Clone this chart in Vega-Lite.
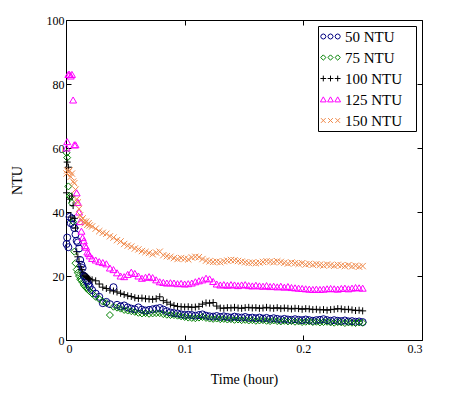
{
"$schema":"https://vega.github.io/schema/vega-lite/v6.json",
"width":356,"height":320,"autosize":"none",
"padding":{"left":66,"top":20,"right":54,"bottom":79},
"background":"white",
"config":{"view":{"stroke":"black","strokeWidth":1},"font":"Liberation Serif",
 "axis":{"labelFont":"Liberation Serif","titleFont":"Liberation Serif","labelColor":"black","titleColor":"black","tickColor":"black","domain":false,"grid":false,"titleFontWeight":"normal","labelFontSize":12,"titleFontSize":14,"tickSize":-5}},
"data":{"values":[
{"t":0.0005,"50 NTU":30,"75 NTU":58.5,"100 NTU":46,"125 NTU":60,"150 NTU":52},
{"t":0.001,"50 NTU":32,"75 NTU":57,"100 NTU":55.6,"125 NTU":62,"150 NTU":53},
{"t":0.002,"50 NTU":29,"75 NTU":48,"100 NTU":54,"125 NTU":83,"150 NTU":52.5},
{"t":0.003,"50 NTU":38.5,"75 NTU":45,"100 NTU":44,"125 NTU":83,"150 NTU":53},
{"t":0.004,"50 NTU":36.5,"75 NTU":44.8,"100 NTU":38.4,"125 NTU":82.5,"150 NTU":51},
{"t":0.005,"50 NTU":38,"75 NTU":42.8,"100 NTU":45,"125 NTU":83,"150 NTU":52},
{"t":0.006,"50 NTU":36,"75 NTU":37,"100 NTU":42,"125 NTU":75,"150 NTU":49.5},
{"t":0.007,"50 NTU":35,"75 NTU":27.6,"100 NTU":38,"125 NTU":61,"150 NTU":49},
{"t":0.008,"50 NTU":33,"75 NTU":24,"100 NTU":35,"125 NTU":61,"150 NTU":47},
{"t":0.009,"50 NTU":31,"75 NTU":22,"100 NTU":27.6,"125 NTU":46,"150 NTU":44},
{"t":0.010,"50 NTU":30.5,"75 NTU":21,"100 NTU":26,"125 NTU":43,"150 NTU":43},
{"t":0.011,"50 NTU":28.6,"75 NTU":20,"100 NTU":24.5,"125 NTU":40,"150 NTU":41},
{"t":0.012,"50 NTU":25,"75 NTU":19,"100 NTU":22.9,"125 NTU":37,"150 NTU":39},
{"t":0.013,"50 NTU":23.5,"75 NTU":18.7,"100 NTU":22,"125 NTU":34,"150 NTU":37.5},
{"t":0.014,"50 NTU":22.5,"75 NTU":18,"100 NTU":21,"125 NTU":32,"150 NTU":38},
{"t":0.015,"50 NTU":20,"75 NTU":17.2,"100 NTU":20.3,"125 NTU":31,"150 NTU":37},
{"t":0.016,"50 NTU":19.8,"75 NTU":16.8,"100 NTU":20,"125 NTU":29.5,"150 NTU":36.5},
{"t":0.017,"50 NTU":18.7,"75 NTU":16.3,"100 NTU":19.8,"125 NTU":29,"150 NTU":37},
{"t":0.018,"50 NTU":18.2,"75 NTU":16,"100 NTU":19.5,"125 NTU":27.5,"150 NTU":36},
{"t":0.019,"50 NTU":17.5,"75 NTU":15.6,"100 NTU":19.2,"125 NTU":27,"150 NTU":36.5},
{"t":0.020,"50 NTU":16.7,"75 NTU":15.2,"100 NTU":19,"125 NTU":26.3,"150 NTU":35.8},
{"t":0.022,"50 NTU":15.6,"75 NTU":14.5,"100 NTU":18.8,"125 NTU":25.5,"150 NTU":35.5},
{"t":0.025,"50 NTU":14.5,"75 NTU":13.5,"100 NTU":18.5,"125 NTU":25,"150 NTU":34.8},
{"t":0.028,"50 NTU":13.5,"75 NTU":12.8,"100 NTU":17.5,"125 NTU":24.5,"150 NTU":34},
{"t":0.031,"50 NTU":11.5,"75 NTU":12,"100 NTU":16.5,"125 NTU":24.2,"150 NTU":33.5},
{"t":0.034,"50 NTU":11.9,"75 NTU":11.5,"100 NTU":16.1,"125 NTU":23.8,"150 NTU":33.2},
{"t":0.037,"50 NTU":11.2,"75 NTU":7.8,"100 NTU":15.6,"125 NTU":22.5,"150 NTU":32.4},
{"t":0.040,"50 NTU":16.5,"75 NTU":10.4,"100 NTU":15.3,"125 NTU":22,"150 NTU":32},
{"t":0.043,"50 NTU":11,"75 NTU":10.1,"100 NTU":15,"125 NTU":21,"150 NTU":31.2},
{"t":0.046,"50 NTU":10.5,"75 NTU":9.8,"100 NTU":14.6,"125 NTU":20,"150 NTU":30.8},
{"t":0.049,"50 NTU":10.8,"75 NTU":9.4,"100 NTU":14.2,"125 NTU":19.8,"150 NTU":30},
{"t":0.052,"50 NTU":10.2,"75 NTU":9.2,"100 NTU":13.8,"125 NTU":20.5,"150 NTU":29.5},
{"t":0.055,"50 NTU":9.8,"75 NTU":9.0,"100 NTU":13.6,"125 NTU":21.2,"150 NTU":29.2},
{"t":0.058,"50 NTU":9.6,"75 NTU":8.8,"100 NTU":13.2,"125 NTU":20.8,"150 NTU":28.6},
{"t":0.061,"50 NTU":10.2,"75 NTU":8.5,"100 NTU":13.0,"125 NTU":20,"150 NTU":28.3},
{"t":0.064,"50 NTU":9.5,"75 NTU":8.3,"100 NTU":13.1,"125 NTU":19.3,"150 NTU":27.8},
{"t":0.067,"50 NTU":9.2,"75 NTU":8.4,"100 NTU":12.9,"125 NTU":19.6,"150 NTU":27.5},
{"t":0.070,"50 NTU":9.4,"75 NTU":8.2,"100 NTU":12.8,"125 NTU":19.8,"150 NTU":27.2},
{"t":0.073,"50 NTU":9.6,"75 NTU":8.3,"100 NTU":12.7,"125 NTU":19.5,"150 NTU":26.8},
{"t":0.076,"50 NTU":9.8,"75 NTU":8.4,"100 NTU":12.9,"125 NTU":18.8,"150 NTU":27.3},
{"t":0.079,"50 NTU":10,"75 NTU":8.4,"100 NTU":13.5,"125 NTU":18.2,"150 NTU":27.6},
{"t":0.082,"50 NTU":9.5,"75 NTU":8.1,"100 NTU":12.3,"125 NTU":18,"150 NTU":26.5},
{"t":0.085,"50 NTU":9,"75 NTU":7.9,"100 NTU":11.8,"125 NTU":17.8,"150 NTU":26.2},
{"t":0.088,"50 NTU":8.6,"75 NTU":7.8,"100 NTU":11.2,"125 NTU":17.9,"150 NTU":26},
{"t":0.091,"50 NTU":8.4,"75 NTU":7.8,"100 NTU":10.8,"125 NTU":17.8,"150 NTU":25.6},
{"t":0.094,"50 NTU":8.3,"75 NTU":7.6,"100 NTU":10.5,"125 NTU":17.6,"150 NTU":25.3},
{"t":0.097,"50 NTU":8,"75 NTU":7.4,"100 NTU":10.4,"125 NTU":17.7,"150 NTU":25.6},
{"t":0.100,"50 NTU":7.8,"75 NTU":7.2,"100 NTU":10.3,"125 NTU":17.5,"150 NTU":25.4},
{"t":0.103,"50 NTU":7.9,"75 NTU":7.0,"100 NTU":10.4,"125 NTU":17.6,"150 NTU":25.2},
{"t":0.106,"50 NTU":7.8,"75 NTU":6.9,"100 NTU":10.2,"125 NTU":17.8,"150 NTU":25.8},
{"t":0.109,"50 NTU":7.6,"75 NTU":6.8,"100 NTU":10.3,"125 NTU":18.2,"150 NTU":26},
{"t":0.112,"50 NTU":7.8,"75 NTU":7.0,"100 NTU":10.5,"125 NTU":18.5,"150 NTU":25.9},
{"t":0.115,"50 NTU":8.0,"75 NTU":7.2,"100 NTU":11.2,"125 NTU":18.8,"150 NTU":25.3},
{"t":0.118,"50 NTU":7.6,"75 NTU":6.9,"100 NTU":11.6,"125 NTU":19.3,"150 NTU":24.8},
{"t":0.121,"50 NTU":7.4,"75 NTU":6.7,"100 NTU":11.5,"125 NTU":19.1,"150 NTU":24.6},
{"t":0.124,"50 NTU":7.3,"75 NTU":6.6,"100 NTU":11.7,"125 NTU":18.3,"150 NTU":24.4},
{"t":0.127,"50 NTU":7.5,"75 NTU":6.7,"100 NTU":10.6,"125 NTU":17.5,"150 NTU":24.5},
{"t":0.130,"50 NTU":7.2,"75 NTU":6.5,"100 NTU":10.0,"125 NTU":17.2,"150 NTU":24.3},
{"t":0.133,"50 NTU":7.4,"75 NTU":6.6,"100 NTU":9.9,"125 NTU":17.3,"150 NTU":24.6},
{"t":0.136,"50 NTU":7.2,"75 NTU":6.4,"100 NTU":10.1,"125 NTU":17.1,"150 NTU":24.8},
{"t":0.139,"50 NTU":7.0,"75 NTU":6.5,"100 NTU":10.0,"125 NTU":17.3,"150 NTU":25},
{"t":0.142,"50 NTU":7.3,"75 NTU":6.3,"100 NTU":10.2,"125 NTU":17.2,"150 NTU":24.9},
{"t":0.145,"50 NTU":7.1,"75 NTU":6.4,"100 NTU":10.0,"125 NTU":17.0,"150 NTU":24.7},
{"t":0.148,"50 NTU":7.0,"75 NTU":6.2,"100 NTU":9.9,"125 NTU":17.2,"150 NTU":24.5},
{"t":0.151,"50 NTU":7.2,"75 NTU":6.3,"100 NTU":10.1,"125 NTU":17.3,"150 NTU":24.3},
{"t":0.154,"50 NTU":6.9,"75 NTU":6.1,"100 NTU":10.2,"125 NTU":17.0,"150 NTU":24.1},
{"t":0.157,"50 NTU":7.0,"75 NTU":6.2,"100 NTU":10.0,"125 NTU":16.9,"150 NTU":24.2},
{"t":0.160,"50 NTU":6.8,"75 NTU":6.0,"100 NTU":10.1,"125 NTU":17.1,"150 NTU":24.0},
{"t":0.163,"50 NTU":7.0,"75 NTU":6.1,"100 NTU":9.9,"125 NTU":16.9,"150 NTU":24.2},
{"t":0.166,"50 NTU":6.7,"75 NTU":6.2,"100 NTU":10.0,"125 NTU":16.8,"150 NTU":24.4},
{"t":0.169,"50 NTU":6.9,"75 NTU":6.0,"100 NTU":10.2,"125 NTU":17.0,"150 NTU":24.6},
{"t":0.172,"50 NTU":6.6,"75 NTU":5.9,"100 NTU":10.0,"125 NTU":16.7,"150 NTU":24.5},
{"t":0.175,"50 NTU":6.8,"75 NTU":6.1,"100 NTU":9.9,"125 NTU":16.8,"150 NTU":24.3},
{"t":0.178,"50 NTU":6.6,"75 NTU":5.9,"100 NTU":10.1,"125 NTU":16.6,"150 NTU":24.6},
{"t":0.181,"50 NTU":6.4,"75 NTU":5.8,"100 NTU":9.8,"125 NTU":16.8,"150 NTU":24.4},
{"t":0.184,"50 NTU":6.6,"75 NTU":6.0,"100 NTU":10.0,"125 NTU":16.5,"150 NTU":24.1},
{"t":0.187,"50 NTU":6.4,"75 NTU":5.8,"100 NTU":9.9,"125 NTU":16.7,"150 NTU":23.9},
{"t":0.190,"50 NTU":6.3,"75 NTU":5.9,"100 NTU":9.7,"125 NTU":16.4,"150 NTU":24.2},
{"t":0.193,"50 NTU":6.5,"75 NTU":5.7,"100 NTU":9.9,"125 NTU":16.3,"150 NTU":24.0},
{"t":0.196,"50 NTU":6.3,"75 NTU":5.8,"100 NTU":9.8,"125 NTU":16.2,"150 NTU":23.8},
{"t":0.199,"50 NTU":6.2,"75 NTU":5.6,"100 NTU":9.6,"125 NTU":16.1,"150 NTU":24.0},
{"t":0.202,"50 NTU":6.4,"75 NTU":5.7,"100 NTU":9.8,"125 NTU":16.0,"150 NTU":23.6},
{"t":0.205,"50 NTU":6.2,"75 NTU":5.8,"100 NTU":9.7,"125 NTU":15.9,"150 NTU":23.8},
{"t":0.208,"50 NTU":6.0,"75 NTU":5.6,"100 NTU":9.5,"125 NTU":15.8,"150 NTU":23.5},
{"t":0.211,"50 NTU":6.2,"75 NTU":5.7,"100 NTU":9.6,"125 NTU":15.9,"150 NTU":23.7},
{"t":0.214,"50 NTU":6.3,"75 NTU":5.5,"100 NTU":9.4,"125 NTU":15.8,"150 NTU":23.5},
{"t":0.217,"50 NTU":6.5,"75 NTU":5.6,"100 NTU":9.5,"125 NTU":15.9,"150 NTU":23.3},
{"t":0.220,"50 NTU":6.2,"75 NTU":5.7,"100 NTU":9.3,"125 NTU":16.0,"150 NTU":23.6},
{"t":0.223,"50 NTU":6.0,"75 NTU":5.5,"100 NTU":9.5,"125 NTU":16.1,"150 NTU":23.4},
{"t":0.226,"50 NTU":6.2,"75 NTU":5.4,"100 NTU":9.6,"125 NTU":16.0,"150 NTU":23.2},
{"t":0.229,"50 NTU":6.0,"75 NTU":5.6,"100 NTU":9.8,"125 NTU":15.9,"150 NTU":23.5},
{"t":0.232,"50 NTU":5.9,"75 NTU":5.5,"100 NTU":9.7,"125 NTU":16.1,"150 NTU":23.3},
{"t":0.235,"50 NTU":6.1,"75 NTU":5.3,"100 NTU":9.5,"125 NTU":16.2,"150 NTU":23.1},
{"t":0.238,"50 NTU":5.8,"75 NTU":5.5,"100 NTU":9.6,"125 NTU":16.0,"150 NTU":23.4},
{"t":0.241,"50 NTU":5.9,"75 NTU":5.4,"100 NTU":9.4,"125 NTU":16.2,"150 NTU":23.0},
{"t":0.244,"50 NTU":5.7,"75 NTU":5.3,"100 NTU":9.2,"125 NTU":16.4,"150 NTU":23.2},
{"t":0.247,"50 NTU":5.8,"75 NTU":5.5,"100 NTU":9.3,"125 NTU":16.3,"150 NTU":22.9},
{"t":0.250,"50 NTU":5.6,"75 NTU":5.4,"100 NTU":9.1,"125 NTU":16.2,"150 NTU":23.1}
]},
"transform":[{"fold":["50 NTU","75 NTU","100 NTU","125 NTU","150 NTU"],"as":["series","v"]}],
"layer":[
 {"mark":{"type":"point","filled":false,"strokeWidth":1,"size":49,"opacity":1},
  "encoding":{
   "x":{"field":"t","type":"quantitative","scale":{"domain":[0,0.3],"nice":false},
        "axis":{"values":[0,0.1,0.2,0.3],"format":"~g","title":"Time (hour)","labelPadding":8,"titlePadding":18}},
   "y":{"field":"v","type":"quantitative","scale":{"domain":[0,100],"nice":false},
        "axis":{"values":[0,20,40,60,80,100],"title":"NTU","labelPadding":7,"titlePadding":22}},
   "color":{"field":"series","type":"nominal",
     "scale":{"domain":["50 NTU","75 NTU","100 NTU","125 NTU","150 NTU"],"range":["#000080","#008000","#000000","#FF00FF","#F08A4B"]},
     "legend":{"title":null,"orient":"top-right","offset":6,"strokeColor":"black","fillColor":"white","padding":2,
       "labelFont":"Liberation Serif","labelFontSize":15,"labelColor":"black","symbolSize":256,"symbolStrokeWidth":1,
       "rowPadding":4,"labelOffset":6,"symbolOffset":2,"cornerRadius":0,
       "labelExpr":"datum.label + '\u00a0\u00a0\u00a0\u200b'",
       "symbolType":{"expr":"datum.value === '50 NTU' ? 'M-0.58,0L-0.674,0.226L-0.9,0.32L-1.126,0.226L-1.22,0L-1.126,-0.226L-0.9,-0.32L-0.674,-0.226ZM0.32,0L0.226,0.226L0,0.32L-0.226,0.226L-0.32,0L-0.226,-0.226L0,-0.32L0.226,-0.226ZM1.22,0L1.126,0.226L0.9,0.32L0.674,0.226L0.58,0L0.674,-0.226L0.9,-0.32L1.126,-0.226Z' : datum.value === '75 NTU' ? 'M-1.23,0L-0.9,-0.33L-0.57,0L-0.9,0.33ZM-0.33,0L0,-0.33L0.33,0L0,0.33ZM0.57,0L0.9,-0.33L1.23,0L0.9,0.33Z' : datum.value === '100 NTU' ? 'M-1.26,0L-0.54,0M-0.9,-0.36L-0.9,0.36M-0.36,0L0.36,0M0,-0.36L0,0.36M0.54,0L1.26,0M0.9,-0.36L0.9,0.36' : datum.value === '125 NTU' ? 'M-1.26,0.3L-0.9,-0.33L-0.54,0.3ZM-0.36,0.3L0,-0.33L0.36,0.3ZM0.54,0.3L0.9,-0.33L1.26,0.3Z' : 'M-1.2,-0.3L-0.6,0.3M-1.2,0.3L-0.6,-0.3M-0.3,-0.3L0.3,0.3M-0.3,0.3L0.3,-0.3M0.6,-0.3L1.2,0.3M0.6,0.3L1.2,-0.3'"}
     }},
   "shape":{"field":"series","type":"nominal",
     "scale":{"range":["M-1,0L1,0M0,-1L0,1","triangle-up","M-0.9,-0.9L0.9,0.9M-0.9,0.9L0.9,-0.9","circle","diamond"]},
     "legend":null}
  }},
 {"mark":{"type":"point","opacity":0},
  "encoding":{
   "x":{"field":"t","type":"quantitative","axis":{"orient":"top","values":[0,0.1,0.2,0.3],"labels":false,"title":null}},
   "y":{"field":"v","type":"quantitative","axis":{"orient":"right","values":[0,20,40,60,80,100],"labels":false,"title":null}}
  }}
],
"resolve":{"axis":{"x":"independent","y":"independent"}}
}
